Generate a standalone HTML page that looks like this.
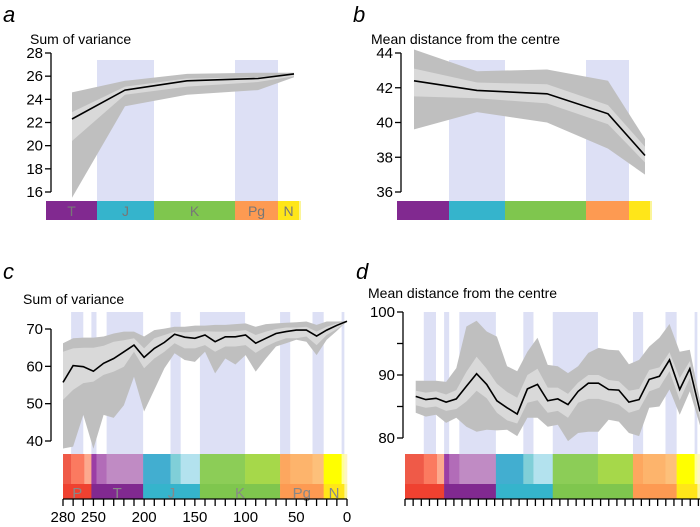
<!DOCTYPE html>
<html><head><meta charset="utf-8">
<style>
html,body{margin:0;padding:0;background:#fff;}
svg{display:block;font-family:"Liberation Sans","DejaVu Sans",sans-serif;}
</style></head>
<body>
<svg id="fig" width="700" height="527" viewBox="0 0 700 527" xmlns="http://www.w3.org/2000/svg"></svg>
<script>
// ---------- Panel a data ----------
const aPeriods = ["T","J","K","Pg","N"];
const aLine = [22.3,24.8,25.6,25.8,26.2];
const aOuterUp = [24.6,25.6,26.2,26.3,26.3];
const aOuterLo = [15.5,23.4,24.4,24.8,25.9];
const aInnerUp = [22.9,25.1,25.8,25.9,26.2];
const aInnerLo = [20.4,24.4,25.1,25.5,26.0];
const aTicks = [16,18,20,22,24,26,28];
// ---------- Panel b data ----------
const bLine = [42.4,41.85,41.65,40.5,38.1];
const bOuterUp = [44.2,42.95,43.05,42.4,39.05];
const bOuterLo = [39.6,40.6,40.0,38.5,37.0];
const bInnerUp = [43.1,42.3,42.2,41.0,38.6];
const bInnerLo = [41.5,41.4,41.1,39.9,37.7];
const bTicks = [36,38,40,42,44];
// ---------- Panel c/d data ----------
const ages = [280,270,260,250,240,230,220,210,200,190,180,170,160,150,140,130,120,110,100,90,80,70,60,50,40,30,20,10,0];
const cLine = [55.7,60.2,59.9,58.7,60.8,62.1,63.9,65.7,62.4,64.8,66.4,68.6,67.8,67.5,68.4,66.6,67.9,67.9,68.4,66.2,67.5,68.8,69.3,69.7,69.7,68.1,69.7,71.0,72.1];
const cOuterUp = [66.2,67.5,67.7,67.7,68.0,68.8,69.3,69.3,68.0,69.7,70.1,70.6,70.6,70.9,70.9,71.1,71.1,71.3,71.5,70.6,71.3,71.5,71.7,71.8,72.0,71.1,72.0,72.0,72.1];
const cInnerUp = [63.9,64.8,65.0,65.0,65.5,66.6,67.0,67.5,64.8,67.5,68.4,69.3,69.1,69.3,69.4,69.3,69.3,69.4,69.7,68.4,69.3,70.0,70.4,70.4,70.6,69.3,70.6,71.5,72.1];
const cInnerLo = [51.0,53.7,55.5,55.9,57.7,58.6,59.9,63.9,59.5,62.1,63.9,66.2,64.8,64.8,65.7,63.9,65.3,65.3,65.7,63.6,65.3,66.6,67.5,67.5,68.0,65.7,68.4,70.0,72.1];
const cOuterLo = [38.0,38.5,47.0,37.9,47.0,46.2,49.6,57.2,47.9,53.7,59.5,63.5,61.7,61.2,63.9,58.1,62.1,60.5,63.0,58.6,62.1,65.3,66.2,67.1,66.6,63.0,67.1,69.5,72.1];
const cTicks = [40,50,60,70];
const cXTicks = [280,250,200,150,100,50,0];
const dLine = [86.6,86.1,86.3,85.7,86.2,88.2,90.2,88.5,85.9,84.8,83.8,87.8,88.5,85.9,86.2,85.3,87.4,88.7,88.7,87.7,87.6,85.7,86.1,89.3,89.8,92.4,87.7,91.0,84.2];
const dOuterUp = [89.1,89.1,89.1,88.9,91.1,97.7,98.6,96.9,96.1,91.4,90.6,93.7,95.9,91.6,91.4,90.3,91.4,93.5,94.3,94.0,93.9,91.7,92.4,94.5,95.9,98.1,93.7,94.0,86.0];
const dInnerUp = [87.5,87.2,87.4,86.9,87.6,90.5,92.9,91.0,88.6,87.3,86.4,90.0,91.0,88.0,88.0,87.0,88.8,90.0,90.0,89.2,89.0,87.5,87.8,90.8,91.2,93.6,89.5,92.2,85.0];
const dInnerLo = [85.2,84.8,85.0,84.3,84.6,85.8,87.5,86.3,84.0,82.8,82.3,85.6,86.0,84.0,84.3,83.2,85.6,86.2,86.2,85.8,85.3,84.0,84.5,87.4,88.0,90.6,86.0,89.5,83.0];
const dOuterLo = [84.0,83.4,83.7,82.4,83.2,81.8,81.0,81.3,81.2,81.3,80.3,83.2,83.2,81.8,82.1,79.5,80.8,81.0,81.0,82.9,82.6,80.8,80.3,84.8,85.0,87.7,83.7,87.4,82.0];
const dTicks = [80,85,90,95,100];
const dTickLabels = [80,90,100];
// geologic time scale (Ma)
const periodNames = ["P","T","J","K","Pg","N","Q"];
const periodStart = [299,252,201,145,66,23,2.6];
const periodEnd = [252,201,145,66,23,2.6,0];
const periodColor = ["#ef4130","#812990","#35b4cc","#7fc64e","#fd9a52","#ffe619","#fbf59a"];
const epochStart = [299,272,259,252,247,237,201,174,164,145,100.5,66,56,34,23,5.3,2.6];
const epochEnd = [272,259,252,247,237,201,174,164,145,100.5,66,56,34,23,5.3,2.6,0];
const epochColor = ["#ef5a48","#fb7a60","#fca98e","#9b3ea5","#b26cb8","#c08bc4","#42aed0","#80cfd8","#b3e2ee","#8ccd57","#a6d84a","#fda75f","#fdb46c","#fdc07a","#ffff00","#ffff99","#fff6c0"];
// shaded intervals (Ma)
const bandStart = [272,252,237,174,145,66,34,5.3];
const bandEnd = [260,247,201,164,100.5,56,23,2.6];

const NS="http://www.w3.org/2000/svg";
const svg=document.getElementById('fig');
function mk(tag,parent){const e=document.createElementNS(NS,tag);(parent||svg).appendChild(e);return e;}
function txt(parent,x,y,s,size,anchor,fill,style){const t=mk('text',parent);t.setAttribute('x',x);t.setAttribute('y',y);t.setAttribute('font-size',size);if(anchor)t.setAttribute('text-anchor',anchor);t.setAttribute('fill',fill||'#000');if(style)t.setAttribute('font-style',style);t.textContent=s;return t;}
function pathOf(xs,ys){return xs.map((x,i)=>(i?'L':'M')+x.toFixed(1)+','+ys[i].toFixed(1)).join('');}
function areaOf(xs,up,lo){let d=pathOf(xs,up);for(let i=xs.length-1;i>=0;i--)d+='L'+xs[i].toFixed(1)+','+lo[i].toFixed(1);return d+'Z';}

function bandsPanel(g,xs,upO,loO,upI,loI,line){
  const o=mk('path',g);o.setAttribute('d',areaOf(xs,upO,loO));o.setAttribute('fill','#bfbfbf');
  
  
  const i=mk('path',g);i.setAttribute('d',areaOf(xs,upI,loI));i.setAttribute('fill','#d9d9d9');
  
  
  const l=mk('path',g);l.setAttribute('d',pathOf(xs,line));l.setAttribute('fill','none');l.setAttribute('stroke','#000');l.setAttribute('stroke-width','1.6');
  
  
}
function yAxis(g,ax,y,ticks,labels,t0,t1){
  const a=mk('line',g);a.setAttribute('x1',ax);a.setAttribute('x2',ax);a.setAttribute('y1',y(t1));a.setAttribute('y2',y(t0));a.setAttribute('stroke','#000');a.setAttribute('stroke-width','1.3');
  
  
  ticks.forEach(v=>{const t=mk('line',g);t.setAttribute('x1',ax-6);t.setAttribute('x2',ax);t.setAttribute('y1',y(v));t.setAttribute('y2',y(v));t.setAttribute('stroke','#000');t.setAttribute('stroke-width','1.3');
    
    });
  labels.forEach(v=>{const t=txt(g,ax-8,y(v)+5,String(v),15,'end');
    
    });
}
function header(letter,lx,ly,title,tx,ty){
  const a=txt(svg,lx,ly,letter,22,null,'#000','italic');
  
  
  const b=txt(svg,tx,ty,title,14);
  
  
}

// ================= Panel a & b =================
function topPanel(id,ax,barX,barW,pts,bandIdx,v0,v1,line,oU,oL,iU,iL,ticks,labelsOn){
  const g=mk('g');
  const y=v=>53+(v1-v)/(v1-v0)*139;
  bandIdx.forEach(i=>{const r=mk('rect',g);r.setAttribute('x',barX[i]);r.setAttribute('y',60);r.setAttribute('width',barW[i]);r.setAttribute('height',141);r.setAttribute('fill','#dde0f5');
    
    });
  bandsPanel(g,pts,oU.map(y),oL.map(y),iU.map(y),iL.map(y),line.map(y));
  const cols=["#812990","#35b4cc","#7fc64e","#fd9a52","#ffe619"];
  aPeriods.forEach((p,i)=>{const r=mk('rect',g);r.setAttribute('x',barX[i]);r.setAttribute('y',201);r.setAttribute('width',barW[i]);r.setAttribute('height',19);r.setAttribute('fill',cols[i]);
    
    
    if(labelsOn){const t=txt(g,barX[i]+barW[i]/2,216,p,14,'middle','#777');
      
      }});
  const q=mk('rect',g);q.setAttribute('x',barX[4]+barW[4]);q.setAttribute('y',201);q.setAttribute('width',2);q.setAttribute('height',19);q.setAttribute('fill','#fbf59a');
  
  
  yAxis(g,ax,y,ticks,ticks,v0,v1);
}
header('a',3,22,'Sum of variance',30,44);
topPanel('a',51,[46,97,154,235,278],[51,57,81,43,21],[72,125,187,258,294],[1,3],16,28,aLine,aOuterUp,aOuterLo,aInnerUp,aInnerLo,aTicks,true);
header('b',353,22,'Mean distance from the centre',371,44);
topPanel('b',401,[397,449,505,586,629],[52,56,81,43,21],[414,477,547,608,645],[1,3],36,44,bLine,bOuterUp,bOuterLo,bInnerUp,bInnerLo,bTicks,false);

// ================= Panel c & d =================
function bottomPanel(id,ax,x,xMin,yTop,yBot,v0,v1,line,oU,oL,iU,iL,ticks,tickLabels,labelsOn){
  const g=mk('g');
  const y=v=>yBot-(v-v0)/(v1-v0)*(yBot-yTop);
  bandStart.forEach((s,i)=>{const r=mk('rect',g);r.setAttribute('x',x(s));r.setAttribute('y',312);r.setAttribute('width',x(bandEnd[i])-x(s));r.setAttribute('height',142);r.setAttribute('fill','#dde0f5');
    
    });
  bandsPanel(g,ages.map(x),oU.map(y),oL.map(y),iU.map(y),iL.map(y),line.map(y));
  epochStart.forEach((s,i)=>{const a=Math.min(s,xMin);const r=mk('rect',g);r.setAttribute('x',x(a));r.setAttribute('y',454);r.setAttribute('width',x(epochEnd[i])-x(a)+0.3);r.setAttribute('height',30);r.setAttribute('fill',epochColor[i]);
    
    });
  periodStart.forEach((s,i)=>{const a=Math.min(s,xMin);const r=mk('rect',g);r.setAttribute('x',x(a));r.setAttribute('y',484);r.setAttribute('width',x(periodEnd[i])-x(a)+0.3);r.setAttribute('height',15);r.setAttribute('fill',periodColor[i]);
    
    
    if(labelsOn&&i<6){const t=txt(g,(x(a)+x(periodEnd[i]))/2,498,periodNames[i],15,'middle','#888');
      
      }});
  yAxis(g,ax,y,ticks,tickLabels,v0,v1);
  return g;
}
header('c',3,279,'Sum of variance',23,304);
const cx=ma=>63+(280-ma)*284/280;
const gc=bottomPanel('c',51,cx,280,329,441,40,70,cLine,cOuterUp,cOuterLo,cInnerUp,cInnerLo,cTicks,cTicks,true);
{
  const l=mk('line',gc);l.setAttribute('x1',cx(280));l.setAttribute('x2',cx(0));l.setAttribute('y1',499);l.setAttribute('y2',499);l.setAttribute('stroke','#000');l.setAttribute('stroke-width','1.3');
  
  
  for(let m=280;m>=0;m-=10){const t=mk('line',gc);t.setAttribute('x1',cx(m));t.setAttribute('x2',cx(m));t.setAttribute('y1',499);t.setAttribute('y2',506);t.setAttribute('stroke','#000');t.setAttribute('stroke-width','1.3');
    
    }
  cXTicks.forEach(m=>{const t=txt(gc,cx(m),522,String(m),15,'middle');
    
    });
}
header('d',356,279,'Mean distance from the centre',368,298);
const dx=ma=>405+(290.5-ma)*295/290.5;
const gd=bottomPanel('d',403,dx,290.5,312,438,80,100,dLine,dOuterUp,dOuterLo,dInnerUp,dInnerLo,dTicks,dTickLabels,false);
{
  const l=mk('line',gd);l.setAttribute('x1',405);l.setAttribute('x2',700);l.setAttribute('y1',499);l.setAttribute('y2',499);l.setAttribute('stroke','#000');l.setAttribute('stroke-width','1.3');
  
  
  for(let k=0;k<=36;k++){const xx=405+k*8.15;const t=mk('line',gd);t.setAttribute('x1',xx);t.setAttribute('x2',xx);t.setAttribute('y1',499);t.setAttribute('y2',506);t.setAttribute('stroke','#000');t.setAttribute('stroke-width','1.3');
    
    }
}
</script>
</body></html>
